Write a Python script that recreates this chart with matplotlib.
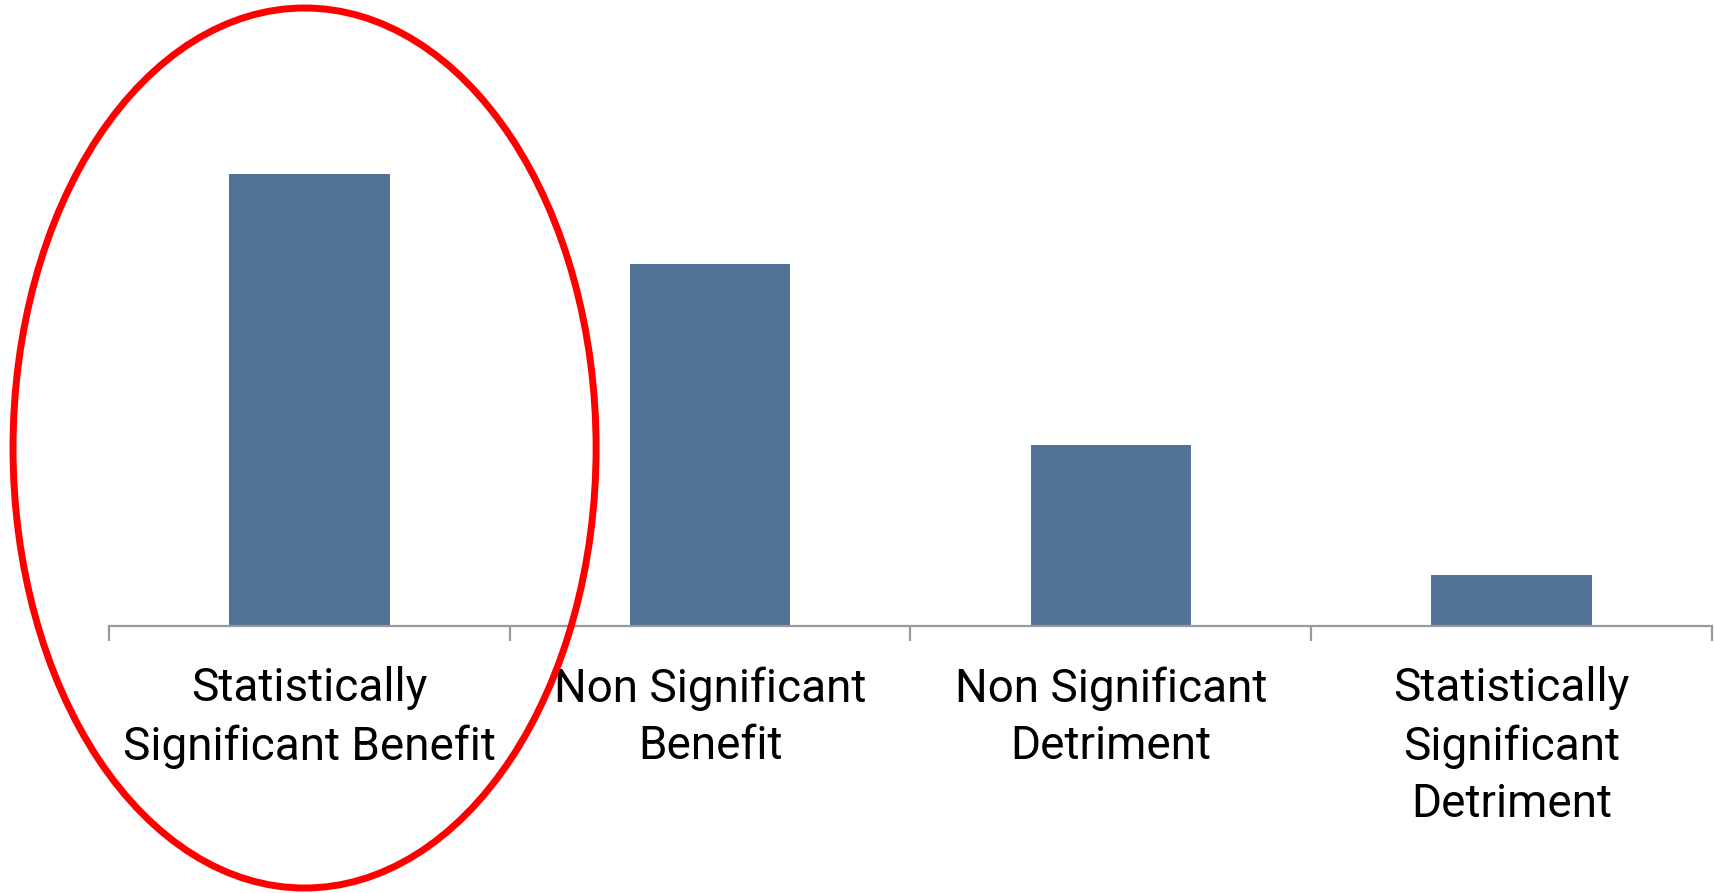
import matplotlib
matplotlib.use("Agg")
import matplotlib.pyplot as plt
from matplotlib.patches import Ellipse

categories = ["Statistically\nSignificant Benefit", "Non Significant\nBenefit",
              "Non Significant\nDetriment", "Statistically\nSignificant\nDetriment"]
values = [45.2, 36.2, 18.1, 5.1]

W, H = 1715, 893
fig = plt.figure(figsize=(W / 100, H / 100), dpi=100)
ax = fig.add_axes([109 / W, (H - 626) / H, (1712 - 109) / W, 626 / H])
x = list(range(len(categories)))
ax.bar(x, values, width=0.4, color="#507396", zorder=2)
ax.set_xlim(-0.5, len(categories) - 0.5)
ax.set_ylim(0, 62.6)

for s in ["top", "right", "left"]:
    ax.spines[s].set_visible(False)
ax.spines["bottom"].set_color("#999999")
ax.spines["bottom"].set_linewidth(1.6)
ax.set_yticks([])
ax.set_xticks(x)
ax.set_xticklabels(categories,
                   family=["Roboto", "DejaVu Sans"],
                   fontsize=33, linespacing=1.39, va="top")
ax.tick_params(axis="x", which="major", length=0, pad=29)
ax.set_xticks([i - 0.5 for i in range(len(categories) + 1)], minor=True)
ax.tick_params(axis="x", which="minor", length=11, width=1.6, color="#999999")

ell = Ellipse((-0.012, 17.8), 1.455, 88.0, fill=False, edgecolor="#FF0000",
              linewidth=5, clip_on=False, zorder=3)
ax.add_patch(ell)

fig.savefig("out.png", dpi=100)
